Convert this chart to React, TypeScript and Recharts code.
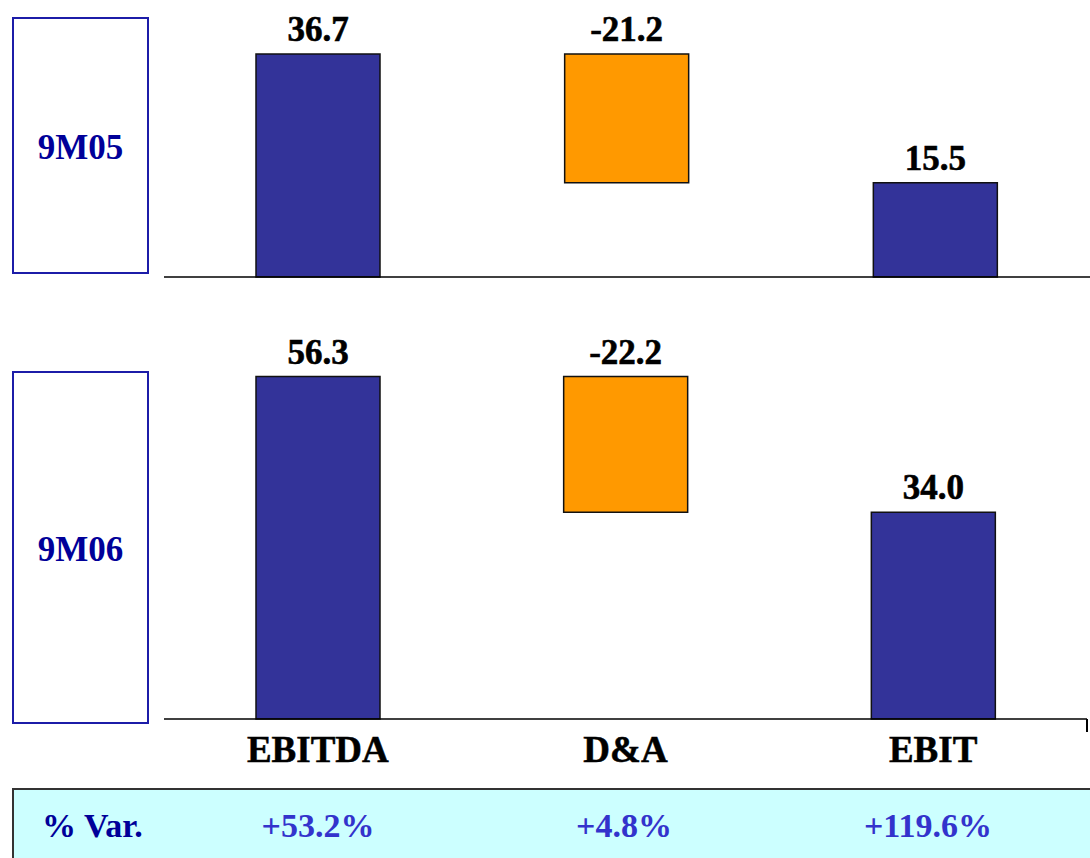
import React from "react";
import { BarChart, Bar, XAxis, YAxis, LabelList, Cell } from "recharts";

const categories = ["EBITDA", "D&A", "EBIT"];
const periods = ["9M05", "9M06"];
const ebitda = [36.7, 56.3];
const depreciation = [-21.2, -22.2];
const ebit = [15.5, 34.0];
const variation = [53.2, 4.8, 119.6];

const NAVY = "#333399";
const ORANGE = "#FF9900";
const FONT = "'Liberation Serif', 'Times New Roman', serif";

// waterfall rows: EBITDA from zero, D&A floating down to EBIT, EBIT from zero
const buildRows = (i: number) => [
  { name: categories[0], span: [0, ebitda[i]], value: ebitda[i] },
  { name: categories[1], span: [ebit[i], ebitda[i]], value: depreciation[i] },
  { name: categories[2], span: [0, ebit[i]], value: ebit[i] },
];

const ValueLabel = (props: any) => {
  const { x, y, width, value } = props;
  return (
    <text
      x={x + width / 2}
      y={y - 13}
      textAnchor="middle"
      fontFamily={FONT}
      fontWeight="bold"
      fontSize={35}
      fill="#000"
      stroke="#000"
      strokeWidth={0.6}
    >
      {Number(value).toFixed(1)}
    </text>
  );
};

const CategoryTick = (props: any) => {
  const { x, y, payload } = props;
  return (
    <text
      x={x}
      y={y + 43}
      textAnchor="middle"
      fontFamily={FONT}
      fontWeight="bold"
      fontSize={37}
      fill="#000"
      stroke="#000"
      strokeWidth={0.5}
    >
      {payload.value}
    </text>
  );
};

const PeriodBox: React.FC<{ label: string; top: number; height: number }> = ({ label, top, height }) => (
  <div
    style={{
      position: "absolute",
      left: 12,
      top,
      width: 137,
      height,
      boxSizing: "border-box",
      border: "2px solid #1C1CA8",
      display: "flex",
      alignItems: "center",
      justifyContent: "center",
      paddingTop: 5,
      fontFamily: FONT,
      fontWeight: "bold",
      fontSize: 35,
      color: "#000099",
    }}
  >
    {label}
  </div>
);

const Panel: React.FC<{ index: number; top: number; height: number; marginTop: number; max: number; showTicks: boolean; right: number }> = ({
  index, top, height, marginTop, max, showTicks, right,
}) => (
  <div style={{ position: "absolute", left: 0, top }}>
    <BarChart
      width={1090}
      height={height}
      data={buildRows(index)}
      margin={{ top: marginTop, right, bottom: 0, left: 164 }}
    >
      <XAxis
        dataKey="name"
        axisLine={{ stroke: "#000", strokeWidth: 1.5 }}
        tickLine={false}
        tickSize={0}
        tickMargin={0}
        height={showTicks ? 51 : 13}
        tick={showTicks ? <CategoryTick /> : false}
        interval={0}
      />
      <YAxis hide domain={[0, max]} />
      <Bar dataKey="span" barSize={124} stroke="#111" strokeWidth={1.5} isAnimationActive={false}>
        {categories.map((c, k) => (
          <Cell key={c} fill={k === 1 ? ORANGE : NAVY} />
        ))}
        <LabelList dataKey="value" content={<ValueLabel />} />
      </Bar>
    </BarChart>
  </div>
);

const varCenters = [316, 622, 926];

export default function App() {
  return (
    <div
      style={{
        position: "absolute",
        left: 0,
        top: 0,
        width: 1090,
        height: 858,
        overflow: "hidden",
        background: "#fff",
      }}
    >
      <PeriodBox label={periods[0]} top={17} height={257} />
      <PeriodBox label={periods[1]} top={371} height={353} />

      <Panel index={0} top={0} height={290} marginTop={34} max={40} showTicks={false} right={0} />
      <Panel index={1} top={290} height={480} marginTop={64} max={60} showTicks right={3} />

      {/* end tick on the lower category axis */}
      <div style={{ position: "absolute", left: 1086, top: 719, width: 1.5, height: 13, background: "#000" }} />

      <div
        style={{
          position: "absolute",
          left: 12,
          top: 788,
          width: 1090,
          height: 90,
          boxSizing: "border-box",
          border: "2px solid #333",
          background: "#CCFFFF",
          fontFamily: FONT,
          fontWeight: "bold",
          fontSize: 34,
        }}
      >
        <span style={{ position: "absolute", left: 28, top: 17, color: "#000099" }}>% Var.</span>
        {variation.map((v, k) => (
          <span
            key={categories[k]}
            style={{
              position: "absolute",
              left: varCenters[k] - 12 - 100,
              width: 200,
              top: 17,
              textAlign: "center",
              color: "#3333CC",
            }}
          >
            {`+${v.toFixed(1)}%`}
          </span>
        ))}
      </div>
    </div>
  );
}
